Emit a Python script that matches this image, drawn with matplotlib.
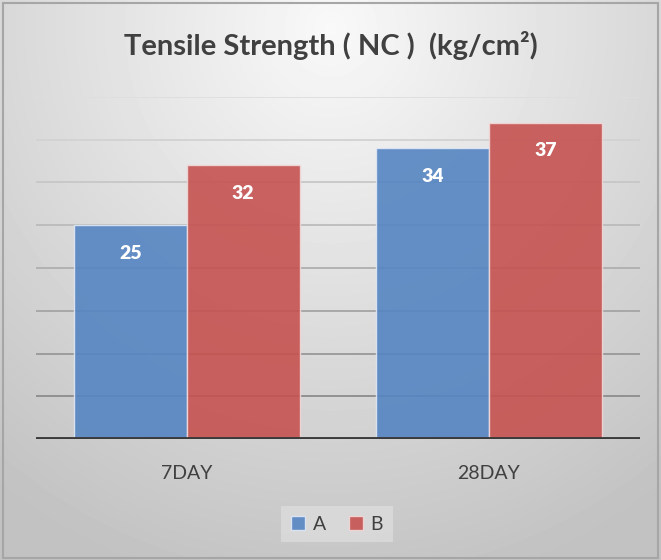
import numpy as np
import matplotlib.pyplot as plt
from matplotlib.patches import Rectangle

# --- Data ---
categories = ["7DAY", "28DAY"]
series_names = ["A", "B"]
values_a = [25, 34]
values_b = [32, 37]
y_max = 40
grid_step = 5

COLOR_A = "#5585c2"
COLOR_B = "#c55250"
TEXT_COLOR = "#404040"

plt.rcParams["font.family"] = ["Lato", "DejaVu Sans"]

fig = plt.figure(figsize=(6.61, 5.6), dpi=100)

# Background: soft gradient, light at the top centre and greyer towards the corners
bg = fig.add_axes([0, 0, 1, 1], zorder=-10)
h, w = 560, 661
yy, xx = np.mgrid[0:h, 0:w]
d = np.sqrt(((xx / w - 0.5) / 0.85) ** 2 + ((yy / h - 0.05) / 1.05) ** 2)
shade = np.clip(0.975 - 0.22 * d, 0.76, 0.98)
bg.imshow(shade, cmap="gray", vmin=0, vmax=1, aspect="auto", extent=[0, 1, 0, 1], origin="upper")
bg.add_patch(Rectangle((0.004, 0.004), 0.992, 0.99, fill=False, edgecolor="#a6a6a6", lw=1.5,
                       transform=bg.transAxes))
bg.set_axis_off()

# Plot area
ax = fig.add_axes([0.054, 0.216, 0.914, 0.611])
ax.set_facecolor("none")
ax.set_xlim(-0.5, 1.5)
ax.set_ylim(0, y_max)

# Gridlines get darker towards the baseline
grid_vals = np.arange(grid_step, y_max + 1, grid_step)
grid_cols = np.linspace(0.55, 0.87, len(grid_vals))
for gv, gc in zip(grid_vals, grid_cols):
    ax.axhline(gv, color=str(gc), lw=1.3, zorder=1)

x = np.arange(len(categories))
width = 0.374
bars_a = ax.bar(x - width / 2, values_a, width, color=COLOR_A, alpha=0.9,
                edgecolor="#dfe8f5", lw=1.0, zorder=2, label=series_names[0])
bars_b = ax.bar(x + width / 2, values_b, width, color=COLOR_B, alpha=0.9,
                edgecolor="#f3d8d8", lw=1.0, zorder=2, label=series_names[1])

for bars in (bars_a, bars_b):
    for b in bars:
        v = b.get_height()
        ax.text(b.get_x() + b.get_width() / 2, v - 3.3, f"{v:g}", ha="center", va="center",
                color="white", fontsize=14, fontweight="heavy", zorder=5)

ax.axhline(0, color="#3a3a3a", lw=3.5, zorder=4)

for s in ax.spines.values():
    s.set_visible(False)
ax.set_yticks([])
ax.set_xticks(x)
ax.set_xticklabels(categories, fontsize=14, color=TEXT_COLOR)
ax.tick_params(axis="x", length=0, pad=19)

fig.text(0.5, 0.918, "Tensile Strength ( NC )  (kg/cm²)", ha="center", va="center",
         fontsize=21, fontweight="bold", color=TEXT_COLOR)

leg = fig.legend(loc="center", bbox_to_anchor=(0.51, 0.935 - 0.871), ncol=2, frameon=True,
                 fontsize=14, handlelength=0.7, handleheight=0.7, handletextpad=0.4,
                 columnspacing=1.2, borderpad=0.5, fancybox=False)
leg.get_frame().set_facecolor("#dcdcdc")
leg.get_frame().set_edgecolor("none")
for t in leg.get_texts():
    t.set_color(TEXT_COLOR)

fig.savefig("out.png", dpi=100)
